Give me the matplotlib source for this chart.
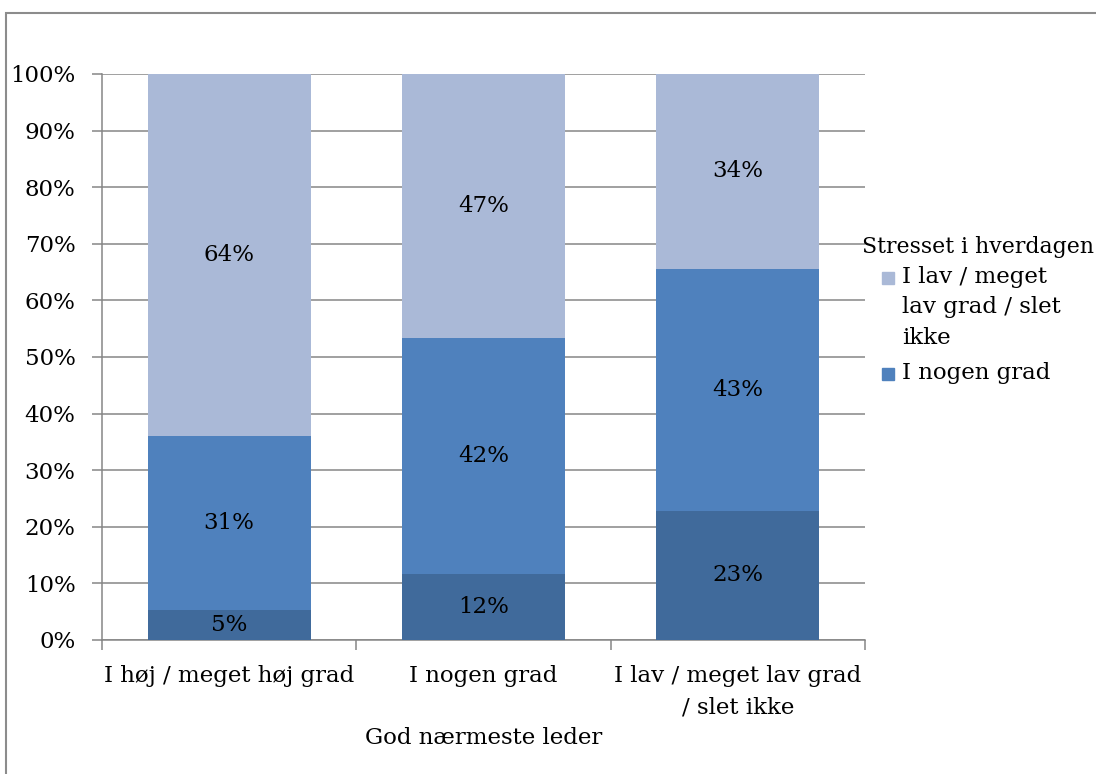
import numpy as np
import matplotlib.pyplot as plt
from matplotlib.patches import Rectangle

plt.rcParams['font.family'] = ['DejaVu Serif']

categories = ['I høj / meget høj grad', 'I nogen grad', 'I lav / meget lav grad\n/ slet ikke']
# stacked shares (percent), bottom to top
high_stress = [5.3, 11.6, 22.8]
some_stress = [30.7, 41.7, 42.8]
low_stress = [64.0, 46.7, 34.4]
series_names = ['I høj / meget høj grad', 'I nogen grad', 'I lav / meget\nlav grad / slet\nikke']
colors = ['#406A9B', '#4F81BD', '#AAB9D7']

grid_c = '#868686'
fs = 16.5
W, H = 1096, 774

fig = plt.figure(figsize=(W / 100, H / 100), dpi=100)
# outer chart frame (partly cut off in the reference)
fig.patches.append(Rectangle((6 / W, -0.1), 1.2, 1.1 - 13 / H, transform=fig.transFigure,
                             fill=False, edgecolor='#8c8c8c', linewidth=1.5))

ax = fig.add_axes([102 / W, 1 - 640 / H, (865 - 102) / W, (640 - 74) / H])
x = np.arange(len(categories))
bottom = np.zeros(len(categories))
for vals, c in zip([high_stress, some_stress, low_stress], colors):
    ax.bar(x, vals, width=0.64, bottom=bottom, color=c, zorder=3)
    for xi, v, b0 in zip(x, vals, bottom):
        ax.text(xi, b0 + v / 2, f'{v:.0f}%', ha='center', va='center', fontsize=fs, zorder=4)
    bottom += np.array(vals)

ax.set_xlim(-0.5, 2.5)
ax.set_ylim(0, 100)
ax.set_yticks(np.arange(0, 101, 10))
ax.set_yticklabels([f'{t}%' for t in range(0, 101, 10)], fontsize=fs)
ax.yaxis.grid(True, color=grid_c, linewidth=1.1, zorder=0)
ax.set_xticks(x)
ax.set_xticklabels(categories, fontsize=fs, linespacing=1.55)
ax.set_xticks([-0.5, 0.5, 1.5, 2.5], minor=True)
ax.tick_params(axis='x', which='major', length=0, pad=18)
ax.tick_params(axis='x', which='minor', length=7, color=grid_c, width=1.1)
ax.tick_params(axis='y', length=7, color=grid_c, width=1.1, pad=12)
for s in ['top', 'right']:
    ax.spines[s].set_visible(False)
for s in ['left', 'bottom']:
    ax.spines[s].set_color(grid_c)
    ax.spines[s].set_linewidth(1.1)
ax.set_xlabel('God nærmeste leder', fontsize=fs, labelpad=6)

# legend drawn by hand so the swatch sits on the first text line
fig.text(862 / W, 1 - 247 / H, 'Stresset i hverdagen', fontsize=15.8, va='center', ha='left')
legend_rows = [(series_names[2], colors[2], 278), (series_names[1], colors[1], 374)]
for name, c, yc in legend_rows:
    fig.patches.append(Rectangle((882 / W, 1 - (yc + 6) / H), 12 / W, 12 / H,
                                 transform=fig.transFigure, color=c))
    fig.text(902 / W, 1 - (yc - 12) / H, name, fontsize=fs, va='top', ha='left', linespacing=1.5)

fig.savefig('out.png', dpi=100)
